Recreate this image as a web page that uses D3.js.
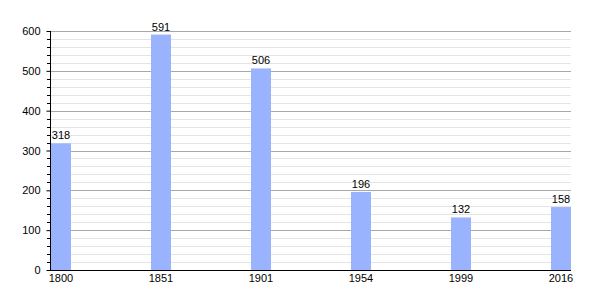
<!DOCTYPE html>
<html>
<head>
<meta charset="utf-8">
<script src="https://cdn.jsdelivr.net/npm/d3@7"></script>
<style>
  body { margin: 0; background: #fff; }
  text { font-family: "Liberation Sans", Arial, sans-serif; font-size: 11px; fill: #000; }
</style>
</head>
<body>
<script>
// data
var years = ["1800", "1851", "1901", "1954", "1999", "2016"];
var population = [318, 591, 506, 196, 132, 158];
var yTicks = [0, 100, 200, 300, 400, 500, 600];

var width = 600, height = 300;
var plotLeft = 50, plotRight = 571, plotTop = 31, plotBottom = 270;
var barWidth = 20;

var svg = d3.select('body').append('svg')
  .attr('width', width)
  .attr('height', height);

var x = d3.scalePoint().domain(years).range([plotLeft + 1, 551]);
var y = d3.scaleLinear().domain([0, 600]).range([plotBottom, plotTop]);

// minor grid every 20
var minor = d3.range(20, 601, 20).filter(function(v) { return v % 100 !== 0; });
svg.append('g').selectAll('line')
  .data(minor).enter().append('line')
  .attr('x1', plotLeft).attr('x2', plotRight)
  .attr('y1', function(d) { return Math.round(y(d)) + 0.5; })
  .attr('y2', function(d) { return Math.round(y(d)) + 0.5; })
  .attr('stroke', '#e4e4e4');

// major grid every 100
svg.append('g').selectAll('line')
  .data(yTicks.slice(1)).enter().append('line')
  .attr('x1', plotLeft).attr('x2', plotRight)
  .attr('y1', function(d) { return Math.round(y(d)) + 0.5; })
  .attr('y2', function(d) { return Math.round(y(d)) + 0.5; })
  .attr('stroke', '#a8a8a8');

// bars
var data = years.map(function(yr, i) { return { year: yr, value: population[i] }; });
svg.append('g').selectAll('rect')
  .data(data).enter().append('rect')
  .attr('x', function(d) { return x(d.year); })
  .attr('y', function(d) { return y(d.value); })
  .attr('width', barWidth)
  .attr('height', function(d) { return plotBottom - y(d.value); })
  .attr('fill', '#99b3ff');

// value labels
svg.append('g').selectAll('text')
  .data(data).enter().append('text')
  .attr('x', function(d) { return x(d.year) + barWidth / 2; })
  .attr('y', function(d) { return y(d.value) - 4; })
  .attr('text-anchor', 'middle')
  .text(function(d) { return d.value; });

// y axis with minor ticks
var yAxis = d3.axisLeft(y).tickValues(yTicks).tickSize(4).tickPadding(6);
var gy = svg.append('g').attr('transform', 'translate(' + (plotLeft + 0.5) + ',0)').call(yAxis);
gy.select('.domain').remove();
gy.selectAll('text').style('font-family', '"Liberation Sans", Arial, sans-serif').style('font-size', '11px');
svg.append('g').selectAll('line')
  .data(minor).enter().append('line')
  .attr('x1', plotLeft - 3).attr('x2', plotLeft)
  .attr('y1', function(d) { return Math.round(y(d)) + 0.5; })
  .attr('y2', function(d) { return Math.round(y(d)) + 0.5; })
  .attr('stroke', '#000');
svg.append('line')
  .attr('x1', plotLeft + 0.5).attr('x2', plotLeft + 0.5)
  .attr('y1', plotTop).attr('y2', plotBottom)
  .attr('stroke', '#000');

// x axis
svg.append('line')
  .attr('x1', plotLeft).attr('x2', plotRight)
  .attr('y1', plotBottom + 0.5).attr('y2', plotBottom + 0.5)
  .attr('stroke', '#000');
svg.append('g').selectAll('text')
  .data(years).enter().append('text')
  .attr('x', function(d) { return x(d) + barWidth / 2; })
  .attr('y', plotBottom + 12)
  .attr('text-anchor', 'middle')
  .text(function(d) { return d; });
</script>
</body>
</html>
